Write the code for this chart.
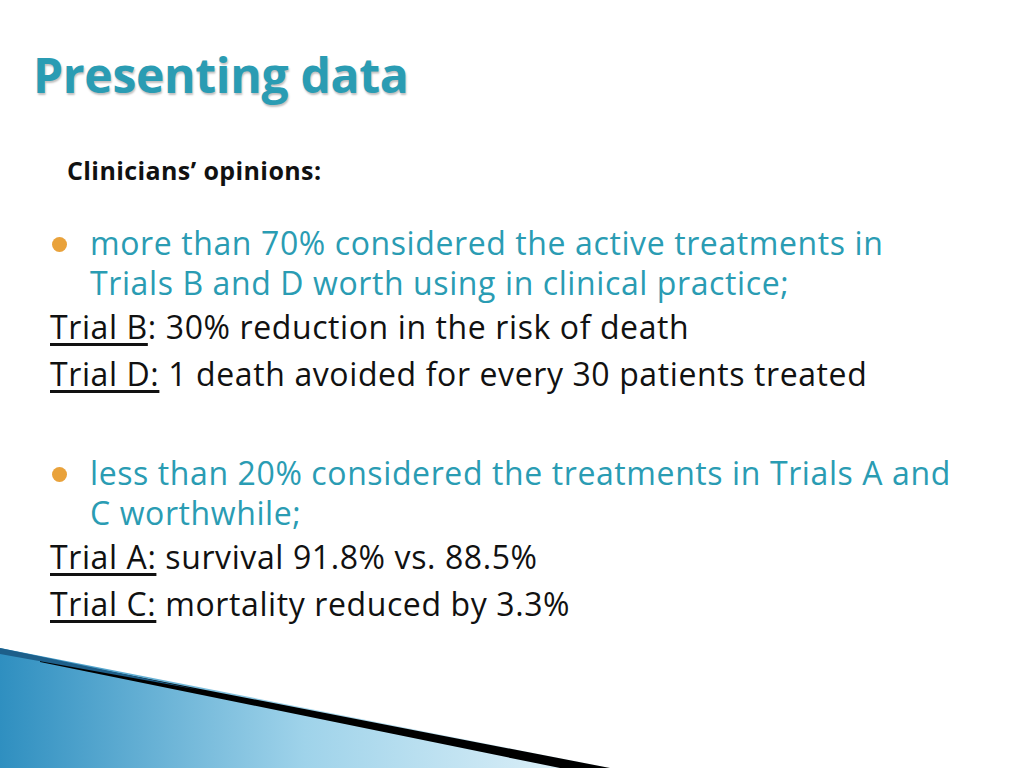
<!DOCTYPE html>
<html lang="en">
<head>
  <meta charset="UTF-8">
  <title>Presenting data</title>
  <script src="https://cdn.jsdelivr.net/npm/chart.js"></script>
  <style>
    html, body { margin: 0; padding: 0; }
    body { width: 1024px; height: 768px; position: relative; overflow: hidden; background: #fff;
           font-family: "Open Sans", "Noto Sans", sans-serif; color: #111; }
    h1 { position: absolute; left: 33px; top: 42px; margin: 0; font-size: 48px; font-weight: 700;
         color: #2a9cb3; letter-spacing: -0.3px; text-shadow: 1px 2px 2px rgba(0,0,0,0.25); }
    .sub { position: absolute; left: 67px; top: 153px; font-size: 25px; font-weight: 700; letter-spacing: 0.4px; }
    .block { position: absolute; left: 50px; font-size: 32px; line-height: 47px; white-space: nowrap; letter-spacing: 0.6px; }
    .b { color: #2a9cb3; position: relative; padding-left: 40px; line-height: 40px; }
    .b::before { content: ""; position: absolute; left: 2px; top: 14px; width: 15px; height: 15px; border-radius: 50%; background: #e9a23b; }
    u { text-underline-offset: 4px; }
    svg { position: absolute; left: 0; top: 0; }
  </style>
</head>
<body>
  <svg width="1024" height="768">
    <defs>
      <linearGradient id="g" x1="0" y1="0" x2="1" y2="0">
        <stop offset="0" stop-color="#2f8fc0"/>
        <stop offset="0.5" stop-color="#9fd3ea"/>
        <stop offset="1" stop-color="#e6f4fa"/>
      </linearGradient>
    </defs>
    <polygon points="0,648 0,768 610,768" fill="url(#g)"/>
    <polygon points="40,658 610,768 560,768 40,662" fill="#000"/>
    <polygon points="0,648 200,690 0,654" fill="#1d5f8a"/>
  </svg>
  <h1>Presenting data</h1>
  <div class="sub">Clinicians’ opinions:</div>
  <div class="block" style="top:223px">
    <div class="b">more than 70% considered the active treatments in<br>Trials B and D worth using in clinical practice;</div>
    <div><u>Trial B</u>: 30% reduction in the risk of death</div>
    <div><u>Trial D:</u> 1 death avoided for every 30 patients treated</div>
  </div>
  <div class="block" style="top:453px">
    <div class="b">less than 20% considered the treatments in Trials A and<br>C worthwhile;</div>
    <div><u>Trial A:</u> survival 91.8% vs. 88.5%</div>
    <div><u>Trial C:</u> mortality reduced by 3.3%</div>
  </div>
</body>
</html>
